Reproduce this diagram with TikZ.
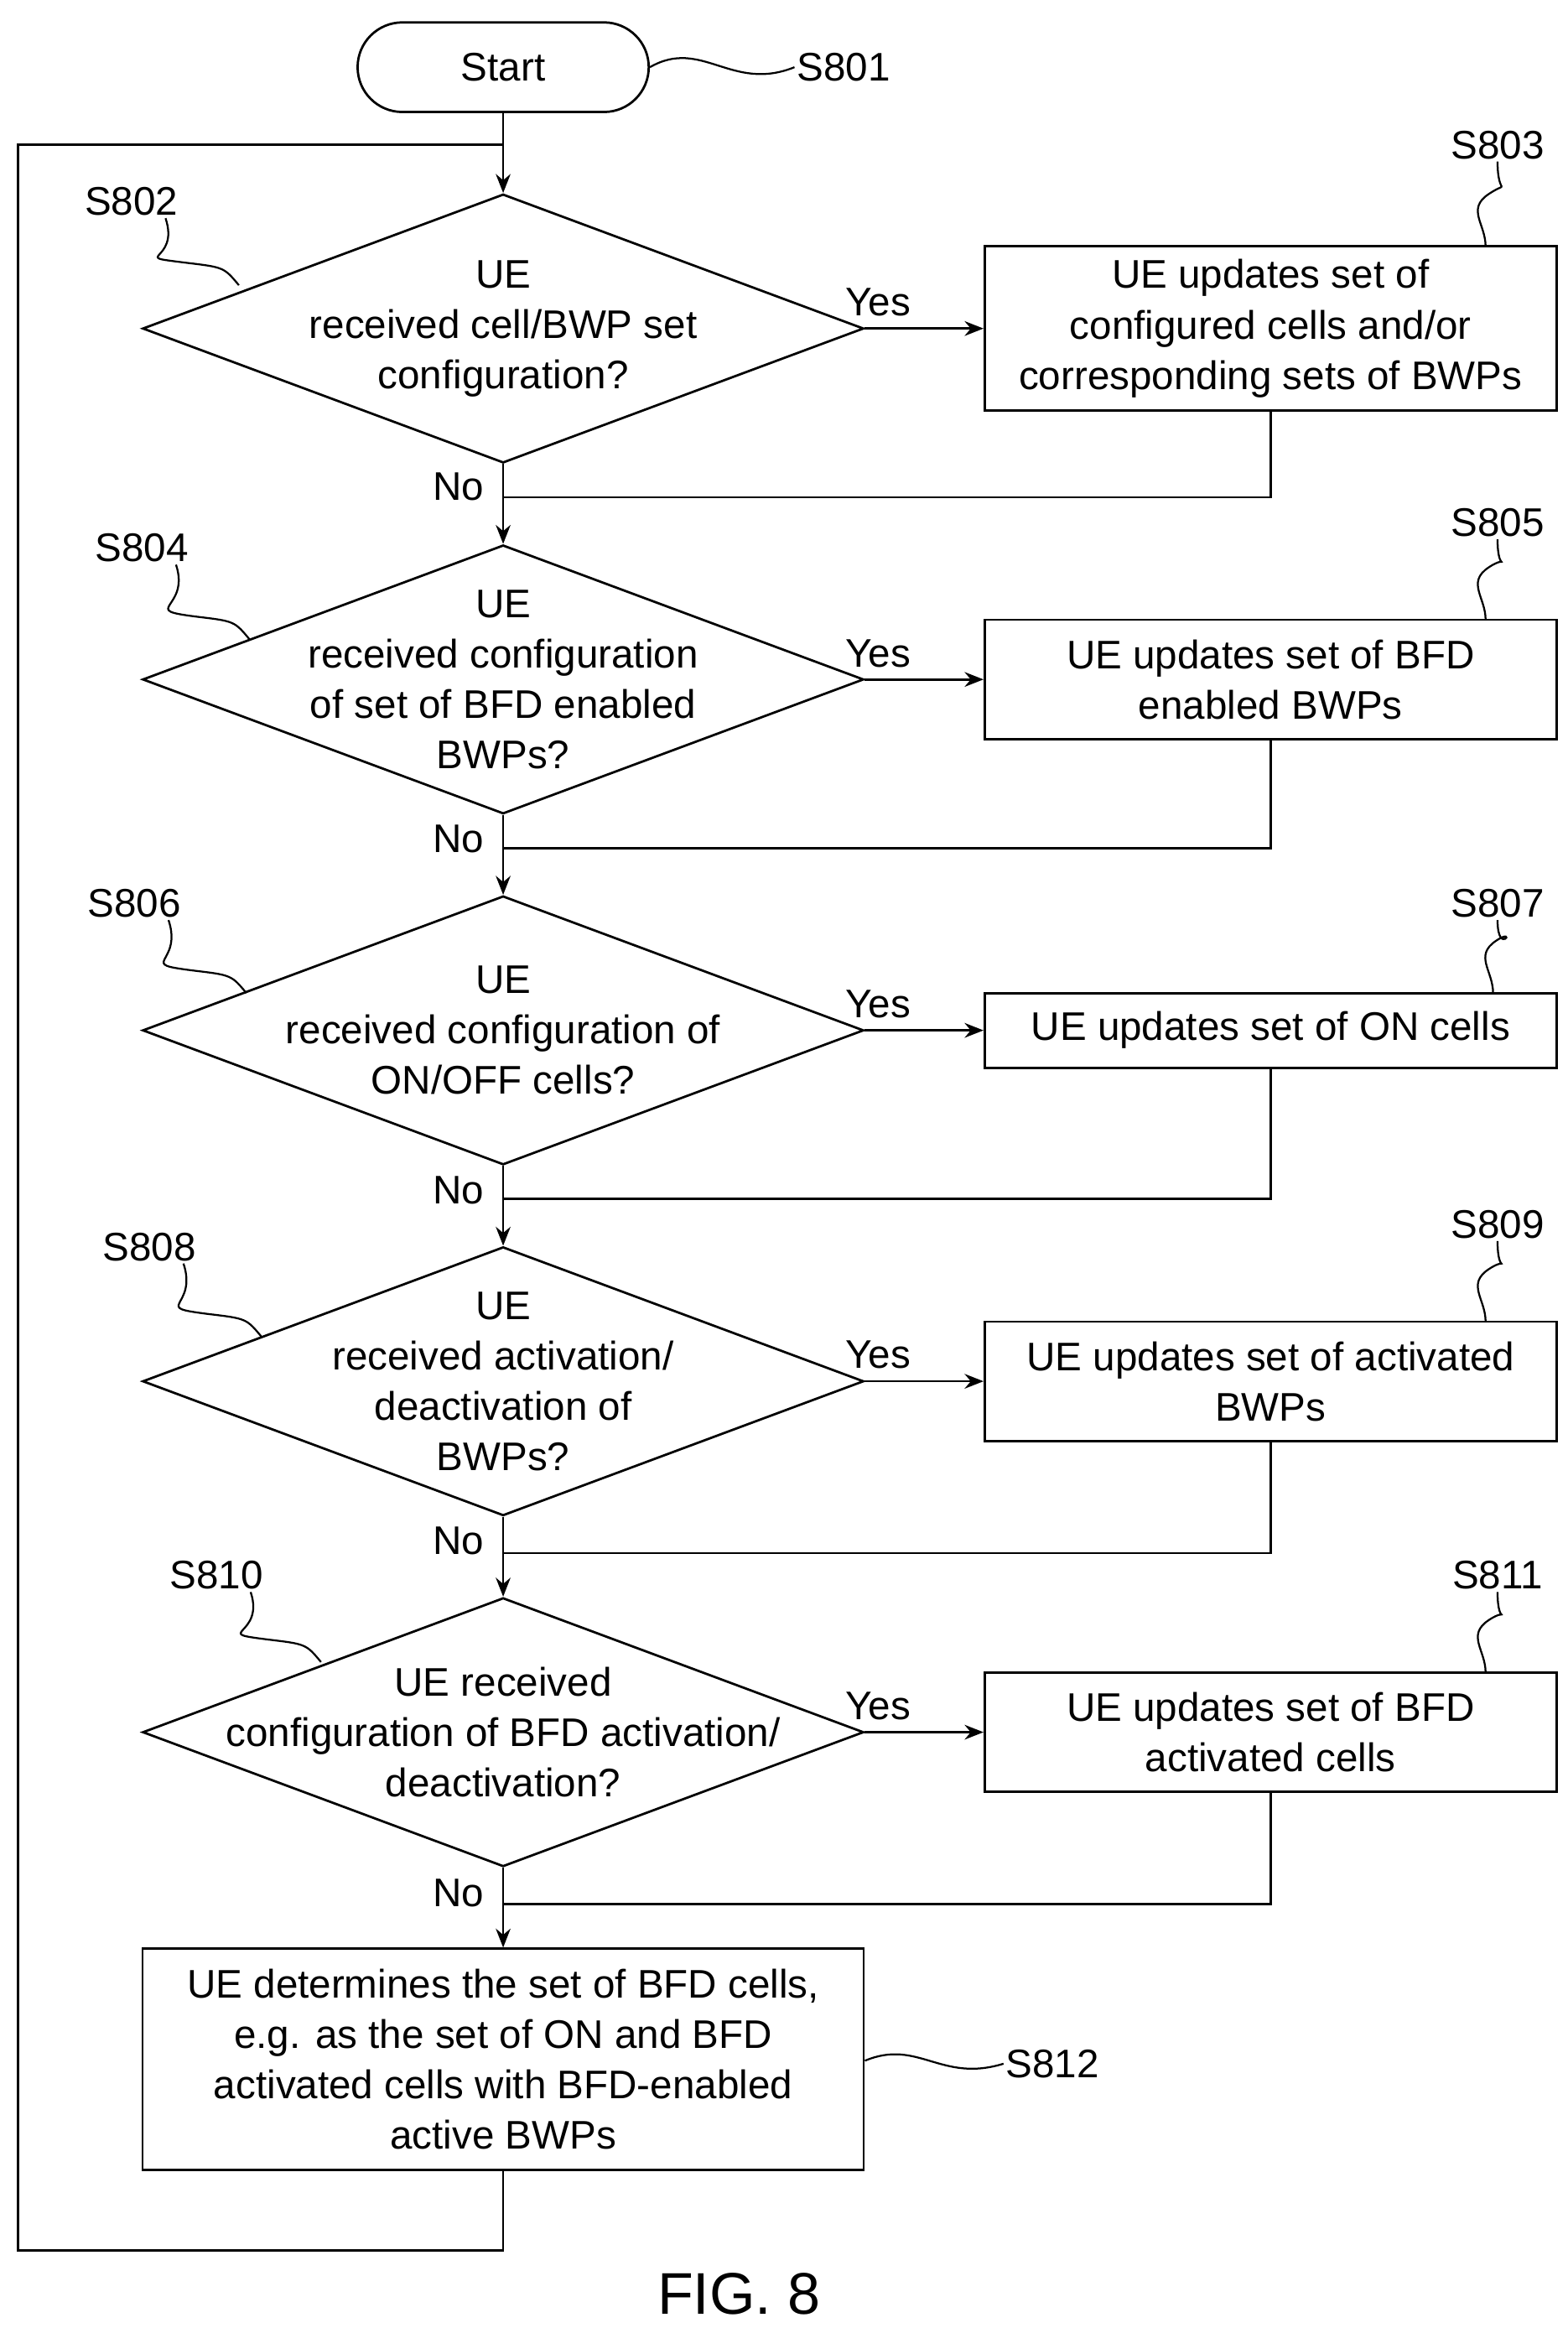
\documentclass[tikz,border=0pt]{standalone}
\usepackage{fontspec}
\setmainfont{Liberation Sans}
\usetikzlibrary{shapes.geometric,arrows.meta}
\begin{document}
\begin{tikzpicture}[x=0.025cm,y=-0.025cm,
  every node/.style={font=\fontsize{19}{24}\selectfont},
  line/.style={line width=1.1pt},
  arr/.style={line, -{Stealth[length=9pt,width=7pt]}},
  dia/.style={draw, line width=1.1pt, diamond, minimum width=483*0.025cm, minimum height=180*0.025cm, inner sep=0pt},
  box/.style={draw, line width=1.1pt, minimum width=383*0.025cm, align=center, inner sep=0pt},
  txt/.style={align=center, inner sep=0pt},
  lab/.style={inner sep=1pt},
  lead/.style={line width=0.9pt}]
\useasboundingbox (0,0) rectangle (1050,1559);

\node[draw, line width=1.1pt, rounded corners=30*0.025cm, minimum width=195*0.025cm, minimum height=60*0.025cm] (start) at (337,45) {Start};
\node[lab] (l801) at (565,45) {S801};
\draw[lead] (start.east) .. controls (470,25) and (490,62) .. (l801.west);

% diamonds
\node[dia] (d1) at (337,220) {};
\node[txt] at (d1) {UE\\received cell/BWP set\\configuration?};
\node[dia] (d2) at (337,455) {};
\node[txt] at (d2) {UE\\received configuration\\of set of BFD enabled\\BWPs?};
\node[dia] (d3) at (337,690) {};
\node[txt] at (d3) {UE\\received configuration of\\ON/OFF cells?};
\node[dia] (d4) at (337,925) {};
\node[txt] at (d4) {UE\\received activation/\\deactivation of\\BWPs?};
\node[dia] (d5) at (337,1160) {};
\node[txt] at (d5) {UE received\\configuration of BFD activation/\\deactivation?};

% boxes
\node[box, minimum height=110*0.025cm] (b1) at (851,220) {UE updates set of\\configured cells and/or\\corresponding sets of BWPs};
\node[box, minimum height=80*0.025cm] (b2) at (851,455) {UE updates set of BFD\\enabled BWPs};
\node[box, minimum height=50*0.025cm] (b3) at (851,690) {UE updates set of ON cells};
\node[box, minimum height=80*0.025cm] (b4) at (851,925) {UE updates set of activated\\BWPs};
\node[box, minimum height=80*0.025cm] (b5) at (851,1160) {UE updates set of BFD\\activated cells};
\node[box, minimum width=483*0.025cm, minimum height=148*0.025cm] (b6) at (337,1379) {UE determines the set of BFD cells,\\e.g. as the set of ON and BFD\\activated cells with BFD-enabled\\active BWPs};

% step labels
\node[lab] (l802) at (88,135) {S802};
\node[lab] (l803) at (1003,97) {S803};
\node[lab] (l804) at (95,367) {S804};
\node[lab] (l805) at (1003,350) {S805};
\node[lab] (l806) at (90,605) {S806};
\node[lab] (l807) at (1003,605) {S807};
\node[lab] (l808) at (100,835) {S808};
\node[lab] (l809) at (1003,820) {S809};
\node[lab] (l810) at (145,1055) {S810};
\node[lab] (l811) at (1003,1055) {S811};
\node[lab] (l812) at (705,1382) {S812};

\foreach \l/\x/\y in {l802/160/191, l804/167/428, l806/165/665, l808/175/895, l810/215/1113} {
  \draw[lead] (\l.south east) ++(-10,0) .. controls +(10,30) and +(-40,-5) .. (\x-35,\y-15) .. controls +(25,3) .. (\x,\y);
}
\foreach \l/\x/\y in {l803/995/165, l805/995/415, l807/1000/665, l809/995/885, l811/995/1120} {
  \draw[lead] (\l.south) .. controls +(0,25) and +(15,-10) .. (\x+2,\y-35) .. controls +(-15,10) and +(0,-15) .. (\x,\y);
}
\draw[lead] (b6.east |- 0,1380) .. controls (615,1365) and (630,1395) .. (l812.west);

% main flow
\coordinate (top) at (337,97);
\draw[arr] (start) -- (d1);
\draw[arr] (d1) -- (d2);
\draw[arr] (d2) -- (d3);
\draw[arr] (d3) -- (d4);
\draw[arr] (d4) -- (d5);
\draw[arr] (d5) -- (b6);

\foreach \d/\b/\r in {d1/b1/333, d2/b2/568, d3/b3/803, d4/b4/1040, d5/b5/1275} {
  \draw[arr] (\d.east) -- node[above, yshift=2pt, xshift=-22pt] {Yes} (\b.west);
  \draw[line] (\b.south) |- (337,\r);
}
\foreach \d/\y in {d1/326, d2/562, d3/797, d4/1032, d5/1268}
  \node at (307,\y) {No};

% loop back
\coordinate (c1) at (337,1507);
\coordinate (c2) at (12,1507);
\coordinate (c3) at (12,97);
\draw[line] (b6.south) -- (c1) -- (c2) -- (c3) -- (top);

\node[font=\fontsize{28}{32}\selectfont] (fig) at (495,1536) {FIG. 8};
\end{tikzpicture}
\end{document}
